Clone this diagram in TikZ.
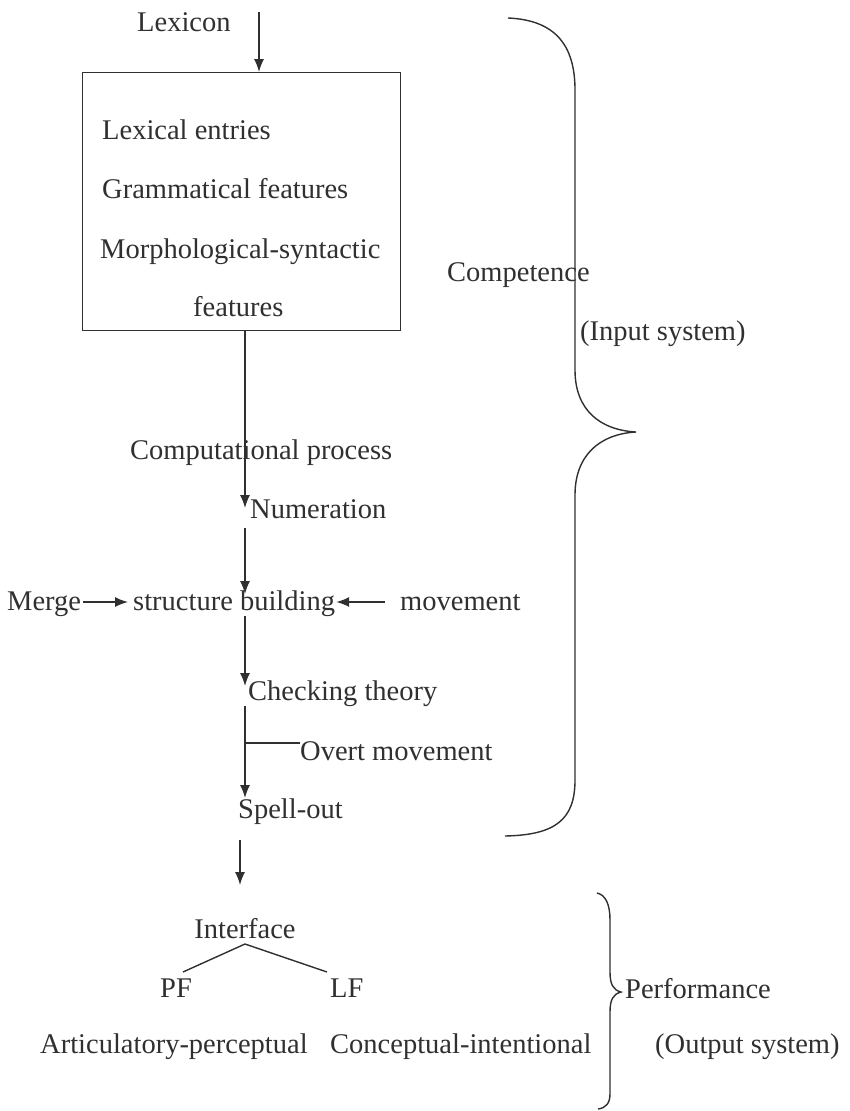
\documentclass[tikz,border=0pt]{standalone}
\usepackage{fontspec}
\setmainfont{Liberation Serif}
\usetikzlibrary{arrows.meta}
\definecolor{ink}{HTML}{303030}
\begin{document}
\begin{tikzpicture}[x=1pt,y=-1pt,
  lbl/.style={anchor=base west,inner sep=0pt,text=ink,font=\fontsize{28.5}{32}\selectfont},
  link/.style={draw=ink,line width=1.4pt},
  flow/.style={link,-{Latex[length=13pt,width=10pt]}}]
\useasboundingbox (0,0) rectangle (849,1111);

% lexicon box
\node[draw=ink,line width=1.4pt,minimum width=318pt,minimum height=258pt,anchor=north west,inner sep=0pt] (box) at (82,72) {};
\node[lbl] (lex) at (137,31) {Lexicon};
\node[lbl] (le) at (102,139) {Lexical entries};
\node[lbl] (gf) at (102,198) {Grammatical features};
\node[lbl] (ms) at (100,258) {Morphological-syntactic};
\node[lbl] (fe) at (193,316) {features};

% right-hand labels
\node[lbl] (comp) at (447,281) {Competence};
\node[lbl] (inp) at (580,340) {(Input system)};

% derivation
\node[lbl] (cp) at (130,459) {Computational process};
\node[lbl] (num) at (250,518) {Numeration};
\node[lbl] (merge) at (7,610) {Merge};
\node[lbl] (sb) at (133,610) {structure building};
\node[lbl] (mov) at (400,610) {movement};
\node[lbl] (ct) at (248,700) {Checking theory};
\node[lbl] (om) at (300,760) {Overt movement};
\node[lbl] (so) at (238,818) {Spell-out};

% interface
\node[lbl,anchor=base] (intf) at (245,938) {Interface};
\node[lbl] (pf) at (160,997) {PF};
\node[lbl] (lf) at (330,997) {LF};
\node[lbl] (ap) at (40,1053) {Articulatory-perceptual};
\node[lbl] (ci) at (330,1053) {Conceptual-intentional};
\node[lbl] (perf) at (625,998) {Performance};
\node[lbl] (outs) at (655,1053) {(Output system)};

% connector end points
\coordinate (lexin) at (259,12);
\coordinate (boxout) at (245,330);
\coordinate (numin) at (245,508);
\coordinate (numout) at (245,528);
\coordinate (sbin) at (245,594);
\coordinate (sbout) at (245,616);
\coordinate (ctin) at (245,686);
\coordinate (ctout) at (245,706);
\coordinate (soin) at (245,798);
\coordinate (tick) at (245,743);
\coordinate (soout) at (240,840);
\coordinate (down) at (240,885);
\coordinate (apex) at (245,944);

\draw[flow] (lexin) -- (lexin |- box.north);
\draw[flow] (boxout) -- (numin);
\draw[flow] (numout) -- (sbin);
\draw[flow] (sbout) -- (ctin);
\draw[flow] (ctout) -- (soin);
\draw[link] (tick) -- (om.west |- tick);
\draw[flow] (soout) -- (down);
\draw[flow] ([xshift=2pt,yshift=8pt]merge.base east) -- ([xshift=-5pt,yshift=8pt]sb.base west);
\draw[flow] ([xshift=-15pt,yshift=8pt]mov.base west) -- ([xshift=1pt,yshift=8pt]sb.base east);
\draw[link] (apex) -- (183,972);
\draw[link] (apex) -- (327,972);

% braces
\draw[link] (508,18) .. controls (555,20) and (575,45) .. (575,90) -- (575,370)
  .. controls (575,410) and (600,430) .. (636,432)
  .. controls (600,434) and (575,455) .. (575,495) -- (575,780)
  .. controls (575,820) and (555,835) .. (505,836);
\draw[link] (597,893) .. controls (606,895) and (610,905) .. (610,920) -- (610,972)
  .. controls (610,984) and (613,990) .. (621,992)
  .. controls (613,994) and (610,1000) .. (610,1012) -- (610,1094)
  .. controls (610,1103) and (606,1108) .. (598,1109);
\end{tikzpicture}
\end{document}
